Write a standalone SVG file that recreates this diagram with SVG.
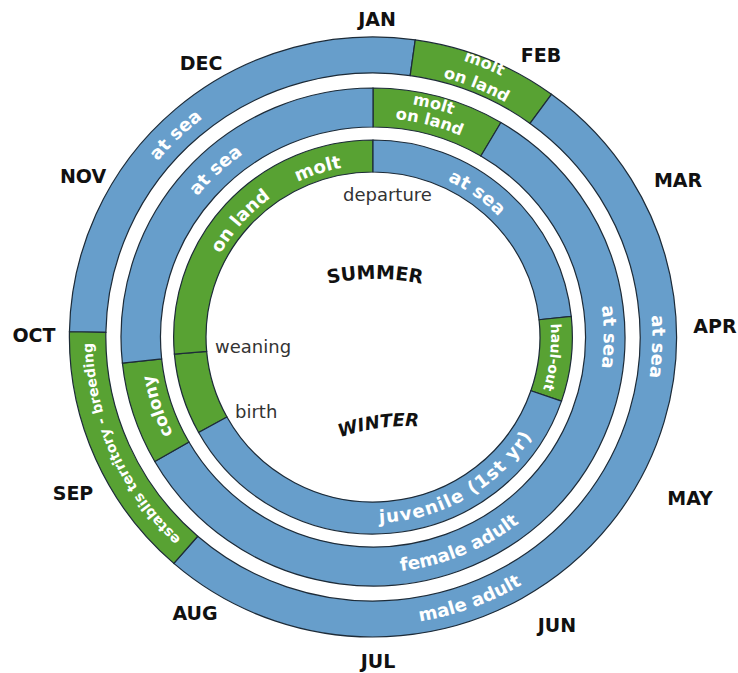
<svg xmlns="http://www.w3.org/2000/svg" width="738" height="673" viewBox="0 0 738 673">
<style>
.blue{fill:#679ecb;stroke:#1d2b38;stroke-width:1.2}
.green{fill:#58a233;stroke:#1d2b38;stroke-width:1.2}
.lbl{font-family:"DejaVu Sans",Verdana,sans-serif;font-weight:bold;font-size:18px;fill:#fff;text-anchor:middle}
.two{font-size:16px}
.month{font-family:"DejaVu Sans",Verdana,sans-serif;font-weight:bold;font-size:19px;fill:#111;text-anchor:middle}
.evt{font-family:"DejaVu Sans",Verdana,sans-serif;font-size:18px;fill:#333}
.season{font-family:"DejaVu Sans",Verdana,sans-serif;font-weight:bold;font-size:19px;fill:#111;text-anchor:middle}
</style>
<defs>
<path id="t1" d="M -257.67,-98.91 A 276 276 0 0 1 -89.86,-260.96"/>
<path id="t2a" d="M 10.10,-290.32 A 290.5 290.5 0 0 1 193.71,-216.14"/>
<path id="t2b" d="M 9.41,-268.34 A 268.5 268.5 0 0 1 180.33,-199.28"/>
<path id="t3" d="M 262.49,-85.29 A 276 276 0 0 1 255.90,103.39"/>
<path id="t4" d="M -50.01,283.63 A 288 288 0 0 0 220.62,185.12"/>
<path id="t5" d="M -162.82,224.10 A 277 277 0 0 1 -275.48,-28.95"/>
<path id="t6" d="M -207.22,-83.73 A 223.5 223.5 0 0 1 -69.07,-212.56"/>
<path id="t7a" d="M -2.05,-235.99 A 236 236 0 0 1 115.72,-205.53"/>
<path id="t7b" d="M -1.92,-218.99 A 219 219 0 0 1 108.33,-190.48"/>
<path id="t8" d="M 214.25,-77.98 A 228 228 0 0 1 214.25,77.98"/>
<path id="t9" d="M -31.55,233.38 A 235.5 235.5 0 0 0 186.33,144.02"/>
<path id="t10" d="M -173.36,135.45 A 220 220 0 0 1 -219.87,-7.68"/>
<path id="t11" d="M -164.92,-48.85 A 172 172 0 0 1 -68.59,-157.73"/>
<path id="t12" d="M -105.89,-135.54 A 172 172 0 0 1 6.00,-171.90"/>
<path id="t13" d="M 31.53,-170.10 A 173 173 0 0 1 150.57,-85.19"/>
<path id="t14" d="M 171.14,-41.09 A 176 176 0 0 1 157.51,78.53"/>
<path id="t15" d="M -32.30,183.17 A 186 186 0 0 0 174.78,63.62"/>
<path id="ts" d="M 260,309.8 A 230 230 0 0 1 490,309.8"/>
<path id="tw" d="M 283.67,468.4 A 200 200 0 0 1 481.72,440.56"/>
</defs>

<g id="rings" transform="translate(373 337) scale(1.012 1)">
  <g id="male-sea-1">
    <path class="blue" d="M -299.96,-5.24 A 300 300 0 0 1 41.75,-297.08 L 36.74,-261.43 A 264 264 0 0 0 -263.96,-4.61 Z"/>
    <text class="lbl"><textPath href="#t1" startOffset="50%">at sea</textPath></text>
  </g>
  <g id="male-molt">
    <path class="green" d="M 41.75,-297.08 A 300 300 0 0 1 176.34,-242.71 L 155.18,-213.58 A 264 264 0 0 0 36.74,-261.43 Z"/>
    <text class="lbl two"><textPath href="#t2a" startOffset="50%">molt</textPath></text>
    <text class="lbl two"><textPath href="#t2b" startOffset="50%">on land</textPath></text>
  </g>
  <g id="male-sea-2">
    <path class="blue" d="M 176.34,-242.71 A 300 300 0 1 1 -196.82,226.41 L -173.20,199.24 A 264 264 0 1 0 155.18,-213.58 Z"/>
    <text class="lbl"><textPath href="#t3" startOffset="50%">at sea</textPath></text>
    <text class="lbl"><textPath href="#t4" startOffset="50%">male adult</textPath></text>
  </g>
  <g id="male-breeding">
    <path class="green" d="M -196.82,226.41 A 300 300 0 0 1 -299.96,-5.24 L -263.96,-4.61 A 264 264 0 0 0 -173.20,199.24 Z"/>
    <text class="lbl" style="font-size:14px"><textPath href="#t5" startOffset="50%">establis territory - breeding</textPath></text>
  </g>

  <g id="female-molt">
    <path class="green" d="M 0,-249 A 249 249 0 0 1 126.38,-214.55 L 106.58,-180.94 A 210 210 0 0 0 0,-210 Z"/>
    <text class="lbl two"><textPath href="#t7a" startOffset="50%">molt</textPath></text>
    <text class="lbl two"><textPath href="#t7b" startOffset="50%">on land</textPath></text>
  </g>
  <g id="female-sea-1">
    <path class="blue" d="M 126.38,-214.55 A 249 249 0 1 1 -215.64,124.5 L -181.87,105 A 210 210 0 1 0 106.58,-180.94 Z"/>
    <text class="lbl"><textPath href="#t8" startOffset="50%">at sea</textPath></text>
    <text class="lbl"><textPath href="#t9" startOffset="50%">female adult</textPath></text>
  </g>
  <g id="female-colony">
    <path class="green" d="M -215.64,124.5 A 249 249 0 0 1 -247.64,26.03 L -208.85,21.95 A 210 210 0 0 0 -181.87,105 Z"/>
    <text class="lbl" style="font-size:17px"><textPath href="#t10" startOffset="50%">colony</textPath></text>
  </g>
  <g id="female-sea-2">
    <path class="blue" d="M -247.64,26.03 A 249 249 0 0 1 0,-249 L 0,-210 A 210 210 0 0 0 -208.85,21.95 Z"/>
    <text class="lbl"><textPath href="#t6" startOffset="50%">at sea</textPath></text>
  </g>

  <g id="juv-birth">
    <path class="green" d="M -172.30,95.51 A 197 197 0 0 1 -196.25,17.17 L -164.37,14.38 A 165 165 0 0 0 -144.31,79.99 Z"/>
  </g>
  <g id="juv-land">
    <path class="green" d="M -196.25,17.17 A 197 197 0 0 1 0,-197 L 0,-165 A 165 165 0 0 0 -164.37,14.38 Z"/>
    <text class="lbl"><textPath href="#t11" startOffset="50%">on land</textPath></text>
    <text class="lbl"><textPath href="#t12" startOffset="50%">molt</textPath></text>
  </g>
  <g id="juv-sea">
    <path class="blue" d="M 0,-197 A 197 197 0 0 1 195.92,-20.59 L 164.10,-17.25 A 165 165 0 0 0 0,-165 Z"/>
    <text class="lbl"><textPath href="#t13" startOffset="50%">at sea</textPath></text>
  </g>
  <g id="juv-haulout">
    <path class="green" d="M 195.92,-20.59 A 197 197 0 0 1 186.27,64.14 L 156.01,53.72 A 165 165 0 0 0 164.10,-17.25 Z"/>
    <text class="lbl" style="font-size:14px"><textPath href="#t14" startOffset="50%">haul-out</textPath></text>
  </g>
  <g id="juv-sea-2">
    <path class="blue" d="M 186.27,64.14 A 197 197 0 0 1 -172.30,95.51 L -144.31,79.99 A 165 165 0 0 0 156.01,53.72 Z"/>
    <text class="lbl" style="letter-spacing:1.2px"><textPath href="#t15" startOffset="50%">juvenile (1st yr)</textPath></text>
  </g>
</g>

<g id="events">
  <text class="evt" x="343" y="201">departure</text>
  <text class="evt" x="215" y="353">weaning</text>
  <text class="evt" x="235" y="418">birth</text>
</g>

<g id="seasons">
  <text class="season"><textPath href="#ts" startOffset="50%">SUMMER</textPath></text>
  <text class="season" style="font-size:18px;font-style:oblique"><textPath href="#tw" startOffset="50%">WINTER</textPath></text>
</g>

<g id="months">
  <text class="month" x="377" y="26">JAN</text>
  <text class="month" x="541" y="62">FEB</text>
  <text class="month" x="678" y="187">MAR</text>
  <text class="month" x="715" y="333">APR</text>
  <text class="month" x="690" y="505">MAY</text>
  <text class="month" x="557" y="632">JUN</text>
  <text class="month" x="378" y="668">JUL</text>
  <text class="month" x="195" y="620">AUG</text>
  <text class="month" x="73" y="500">SEP</text>
  <text class="month" x="34" y="342">OCT</text>
  <text class="month" x="83" y="183">NOV</text>
  <text class="month" x="201" y="70">DEC</text>
</g>
</svg>
